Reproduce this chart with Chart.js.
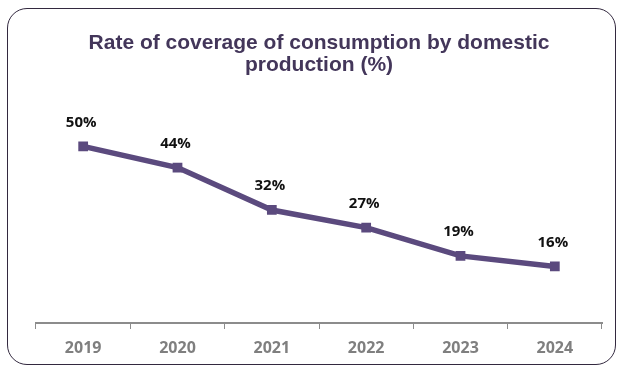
<!DOCTYPE html>
<html>
<head>
<meta charset="utf-8">
<script src="https://cdn.jsdelivr.net/npm/chart.js@4"></script>
<style>
  html, body { margin: 0; padding: 0; background: #fff; }
  #wrap { position: relative; width: 625px; height: 373px; }
  #frame { position: absolute; left: 7px; top: 8px; width: 607px; height: 355px;
    border: 1.6px solid #33293f; border-radius: 20px; }
  canvas { position: absolute; left: 0; top: 0; }
</style>
</head>
<body>
<div id="wrap">
  <div id="frame"></div>
  <canvas id="chart" width="625" height="373"></canvas>
</div>
<script>
const years = ['2019', '2020', '2021', '2022', '2023', '2024'];
const coverage = [50, 44, 32, 27, 19, 16];
const titleLines = ['Rate of coverage of consumption by domestic', 'production (%)'];

const lineColor = '#5b4a7e';

// draw the % labels above each point
const valueLabels = {
  id: 'valueLabels',
  afterDatasetsDraw(chart) {
    const ctx = chart.ctx;
    const meta = chart.getDatasetMeta(0);
    ctx.save();
    ctx.font = 'bold 15px "Open Sans", sans-serif';
    ctx.fillStyle = '#111';
    ctx.textAlign = 'center';
    ctx.textBaseline = 'middle';
    meta.data.forEach((pt, i) => {
      ctx.fillText(coverage[i] + '%', pt.x - 2, pt.y - 24);
    });
    ctx.restore();
  }
};

new Chart(document.getElementById('chart'), {
  type: 'line',
  data: {
    labels: years,
    datasets: [{
      data: coverage,
      borderColor: lineColor,
      backgroundColor: lineColor,
      borderWidth: 5.5,
      tension: 0,
      pointStyle: 'rect',
      pointRadius: 3,
      pointHoverRadius: 3,
    }],
  },
  options: {
    responsive: false,
    animation: false,
    layout: { padding: { left: 36, right: 23, top: 0, bottom: 0 } },
    plugins: {
      legend: { display: false },
      tooltip: { enabled: false },
      title: {
        display: true,
        text: titleLines,
        color: '#43365a',
        font: { family: '"Liberation Sans", Arial, sans-serif', size: 21, weight: 'bold', lineHeight: 1.05 },
        padding: { top: 32, bottom: 35 },
      },
    },
    scales: {
      x: {
        offset: true,
        grid: { offset: true, drawOnChartArea: false, color: '#8c8c8c', tickLength: 6 },
        border: { color: '#8c8c8c', width: 2 },
        ticks: { color: '#7f7f7f', font: { family: '"Open Sans", sans-serif', size: 16, weight: 'bold' }, padding: 10 },
        afterFit(scale) { scale.height = 50; },
      },
      y: {
        display: false,
        min: 0,
        max: 60,
      },
    },
  },
  plugins: [valueLabels],
});
</script>
</body>
</html>
